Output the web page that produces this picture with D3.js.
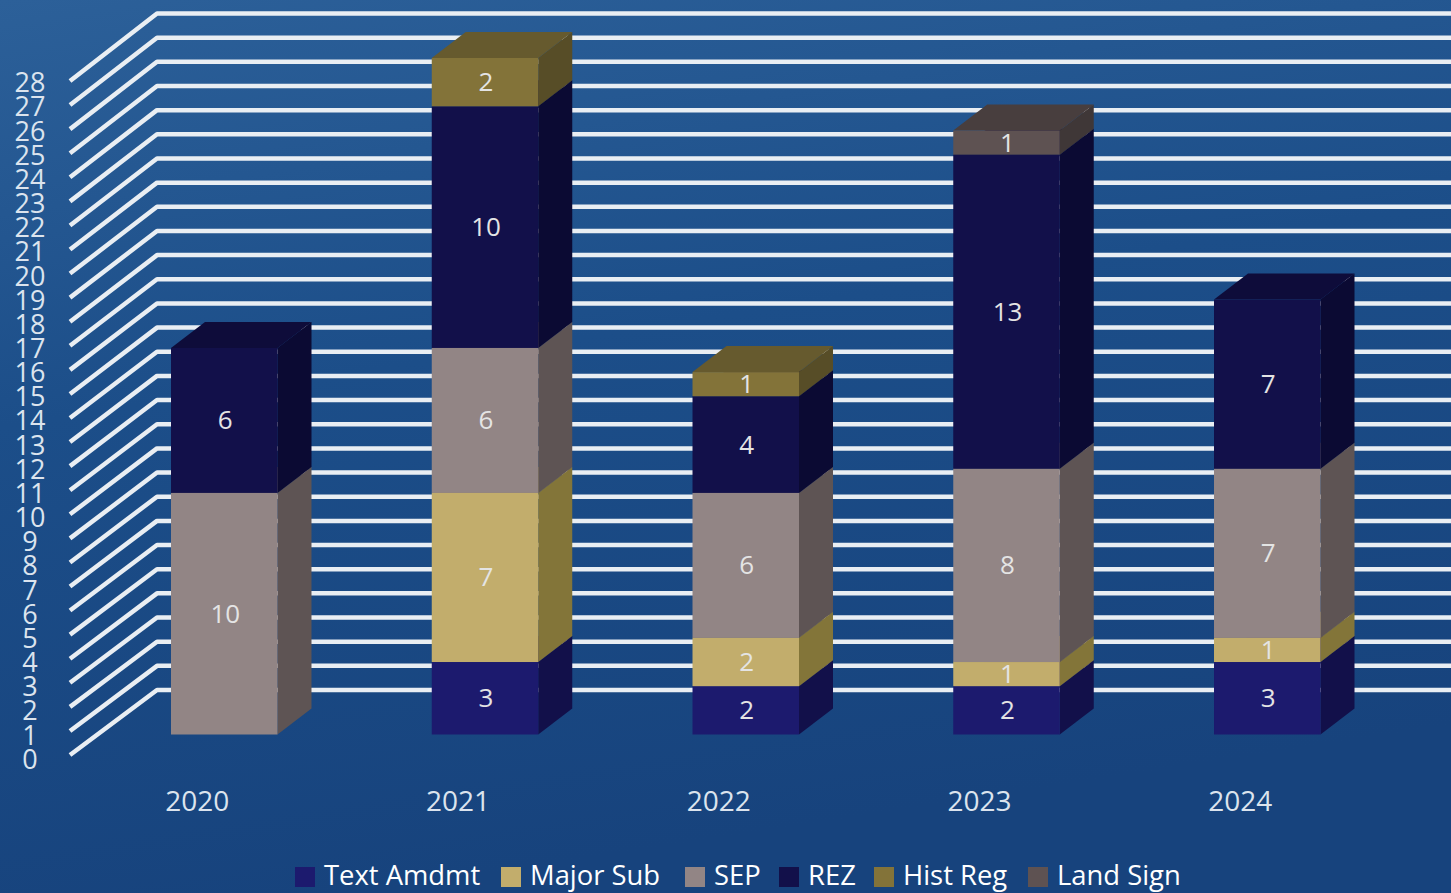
<!DOCTYPE html>
<html>
<head>
<meta charset="utf-8">
<style>
html,body{margin:0;padding:0;background:#17457f;overflow:hidden}
svg{display:block}
text{font-family:"Open Sans",sans-serif}
</style>
<script src="https://cdn.jsdelivr.net/npm/d3@7/dist/d3.min.js"></script>
</head>
<body>
<svg id="chart" width="1451" height="893"></svg>
<script>
// Cases per year, stacked by application type
const years = ["2020", "2021", "2022", "2023", "2024"];
const seriesNames = ["Text Amdmt", "Major Sub", "SEP", "REZ", "Hist Reg", "Land Sign"];
const textAmdmt = [0, 3, 2, 2, 3];
const majorSub = [0, 7, 2, 1, 1];
const sep = [10, 6, 6, 8, 7];
const rez = [6, 10, 4, 13, 7];
const histReg = [0, 2, 1, 0, 0];
const landSign = [0, 0, 0, 1, 0];
const seriesValues = [textAmdmt, majorSub, sep, rez, histReg, landSign];
const yTicks = d3.range(0, 29);

const frontColors = ["#1c1a6e", "#c2ad6c", "#928585", "#12104a", "#837339", "#5e5252"];
const sideColors = ["#12104a", "#837539", "#5e5454", "#0b0a33", "#574d27", "#3f3737"];
const topColors = ["#151355", "#9a8a52", "#746a6a", "#0e0c3a", "#665a2e", "#483e3e"];

const W = 1451, H = 893;
const svg = d3.select("#chart");

// Page background
const defs = svg.append("defs");
const bg = defs.append("linearGradient").attr("id", "bg")
  .attr("x1", 0).attr("y1", 0).attr("x2", 0.25).attr("y2", 1);
bg.append("stop").attr("offset", 0).attr("stop-color", "#2c6099");
bg.append("stop").attr("offset", 0.45).attr("stop-color", "#1c4e89");
bg.append("stop").attr("offset", 1).attr("stop-color", "#17437d");
svg.append("rect").attr("width", W).attr("height", H).attr("fill", "url(#bg)");

// Gridlines: a slanted floor segment running into a rule on the back wall
const yFloor = d3.scaleLinear().domain([0, 28]).range([755, 81]);
const yWall = d3.scaleLinear().domain([0, 28]).range([690, 13.5]);
const xFront = 70, xWall = 157;
svg.append("g").selectAll("path").data(yTicks).join("path")
  .attr("d", d => d3.line()([[xFront, yFloor(d)], [xWall, yWall(d)], [W + 5, yWall(d)]]))
  .attr("fill", "none")
  .attr("stroke", "#e9eef3")
  .attr("stroke-width", 4.5)
  .attr("stroke-linejoin", "round");

// Value axis labels
svg.append("g").selectAll("text").data(yTicks).join("text")
  .attr("x", 30).attr("y", d => yWall(d) + 71.5)
  .attr("text-anchor", "middle")
  .attr("dominant-baseline", "middle")
  .attr("font-size", 27)
  .attr("fill", "#dce4ee")
  .text(d => d);

// Stacked columns with an oblique depth
const rows = years.map((year, i) => {
  const row = { year };
  seriesNames.forEach((name, s) => { row[name] = seriesValues[s][i]; });
  return row;
});
const stacked = d3.stack().keys(seriesNames)(rows);

const x = d3.scaleBand().domain(years).range([171, 1320.5]).paddingInner(0.5916).paddingOuter(0);
const y = d3.scaleLinear().domain([0, 28]).range([734.5, 58]);
const depthX = 34, depthY = -26;
const bw = x.bandwidth();
const barX = year => x(year);

const layers = svg.append("g").selectAll("g").data(stacked).join("g");
const poly = pts => d3.line()(pts) + "Z";
const segs = layers.selectAll("g")
  .data((layer, s) => layer.map(d => ({ s, year: d.data.year, y0: d[0], y1: d[1] })).filter(d => d.y1 > d.y0))
  .join("g");

// Side faces
segs.append("path")
  .attr("d", d => {
    const xr = barX(d.year) + bw;
    return poly([[xr, y(d.y0)], [xr + depthX, y(d.y0) + depthY], [xr + depthX, y(d.y1) + depthY], [xr, y(d.y1)]]);
  })
  .attr("fill", d => sideColors[d.s]);
// Top faces
segs.append("path")
  .attr("d", d => {
    const xl = barX(d.year), yt = y(d.y1);
    return poly([[xl, yt], [xl + depthX, yt + depthY], [xl + bw + depthX, yt + depthY], [xl + bw, yt]]);
  })
  .attr("fill", d => topColors[d.s]);
// Front faces
segs.append("rect")
  .attr("x", d => barX(d.year))
  .attr("y", d => y(d.y1))
  .attr("width", bw)
  .attr("height", d => y(d.y0) - y(d.y1))
  .attr("fill", d => frontColors[d.s]);

// Value labels
segs.append("text")
  .attr("x", d => barX(d.year) + bw / 2 + 1)
  .attr("y", d => (y(d.y0) + y(d.y1)) / 2 + 2)
  .attr("text-anchor", "middle")
  .attr("dominant-baseline", "middle")
  .attr("font-size", 26)
  .attr("fill", "#e4e4e4")
  .text(d => d.y1 - d.y0);

// Year labels, placed along the front edge of the floor
svg.append("g").selectAll("text").data(years).join("text")
  .attr("x", d => barX(d) + bw / 2 - 27)
  .attr("y", 804)
  .attr("text-anchor", "middle")
  .attr("dominant-baseline", "middle")
  .attr("font-size", 28)
  .attr("fill", "#dce4ee")
  .text(d => d);

// Legend
const legendX = [295, 501, 685, 779, 874, 1028];
const legend = svg.append("g").selectAll("g").data(seriesNames).join("g")
  .attr("transform", (d, i) => `translate(${legendX[i]},867)`);
legend.append("rect").attr("width", 20).attr("height", 20)
  .attr("fill", (d, i) => frontColors[i]);
legend.append("text")
  .attr("x", 29).attr("y", 11)
  .attr("dominant-baseline", "middle")
  .attr("font-size", 27.4)
  .attr("fill", "#ffffff")
  .text(d => d);
</script>
</body>
</html>
